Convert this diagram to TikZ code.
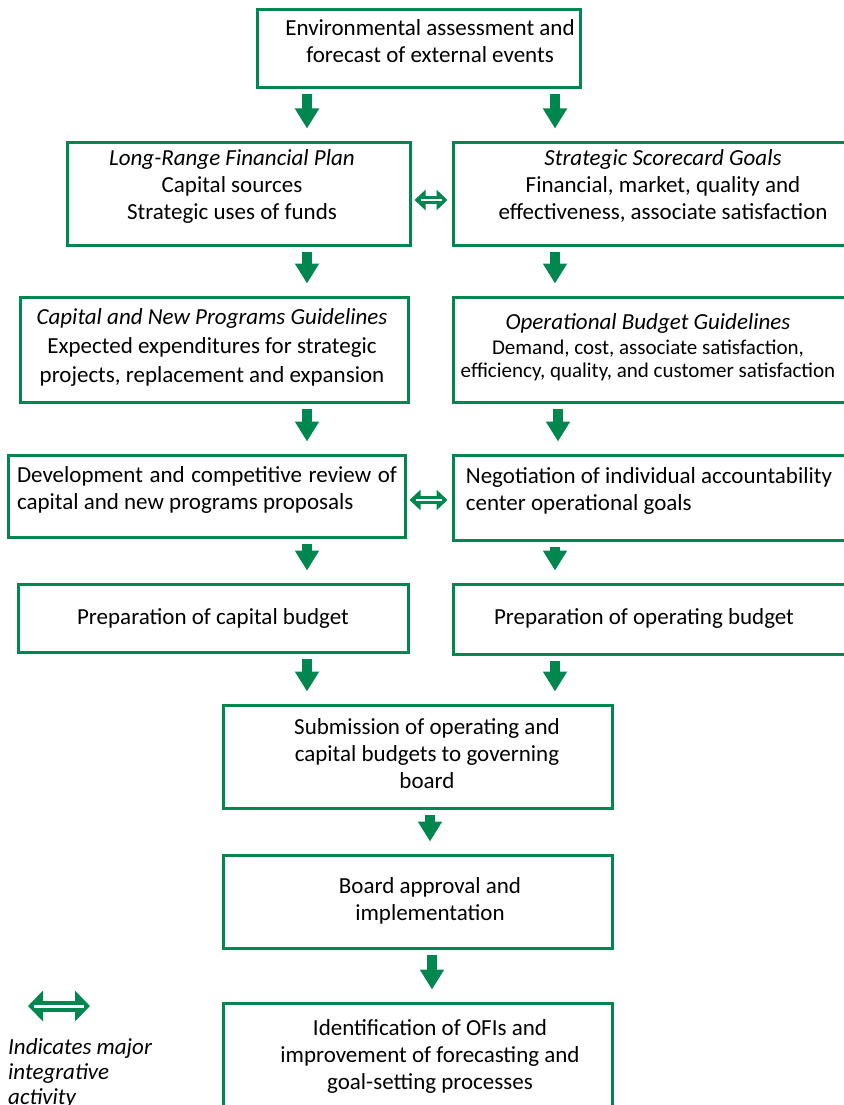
\documentclass[tikz,border=0pt]{standalone}
\usepackage{fontspec}
\setmainfont{Carlito}
\usetikzlibrary{positioning,arrows.meta,calc}
\definecolor{boxgreen}{HTML}{00874F}

\tikzset{
  box/.style={draw=boxgreen, line width=3pt, inner sep=0pt},
  txt/.style={align=center, inner sep=0pt, font=\fontsize{23}{27}\selectfont},
  flow/.style={draw=boxgreen, line width=9.5pt, -{Triangle[width=23pt,length=20pt]},
    shorten <=5pt, shorten >=12pt},
  integ/.style={draw=boxgreen, line width=8pt,
    {Triangle[width=20pt,length=11pt]}-{Triangle[width=20pt,length=11pt]},
    shorten <=3pt, shorten >=4pt,
    postaction={draw=white, line width=1.8pt, -, shorten <=9pt, shorten >=10pt}},
  legarrow/.style={draw=boxgreen, line width=11pt,
    {Triangle[width=30pt,length=15pt]}-{Triangle[width=30pt,length=15pt]},
    postaction={draw=white, line width=3pt, -, shorten <=6pt, shorten >=6pt}}
}

\begin{document}
\begin{tikzpicture}[x=1pt,y=-1pt]
    \useasboundingbox (0,0) rectangle (843,1105);

    % columns of the arrows
    \coordinate (colL) at (307,0);
    \coordinate (colR) at (555,0);
    \coordinate (colM) at (430,0);

    % boxes
    \node[box, minimum width=323pt, minimum height=78pt] (env) at (418.5,49) {};
    \node[box, minimum width=343pt, minimum height=103pt] (lrfp) at (238.5,193.5) {};
    \node[box, minimum width=410pt, minimum height=103pt] (ssg) at (658,193.5) {};
    \node[box, minimum width=388pt, minimum height=105pt] (cnpg) at (214,349.5) {};
    \node[box, minimum width=410pt, minimum height=105pt] (obg) at (658,349.5) {};
    \node[box, minimum width=397pt, minimum height=82pt] (dev) at (206.5,496) {};
    \node[box, minimum width=410pt, minimum height=85pt] (neg) at (658,497.5) {};
    \node[box, minimum width=390pt, minimum height=68pt] (pcb) at (213,618) {};
    \node[box, minimum width=410pt, minimum height=70pt] (pob) at (658,619) {};
    \node[box, minimum width=389pt, minimum height=103pt] (sub) at (417.5,756.5) {};
    \node[box, minimum width=389pt, minimum height=93pt] (board) at (417.5,901.5) {};
    \node[box, minimum width=389pt, minimum height=117pt] (ofi) at (417.5,1061.5) {};

    % texts
    \node[txt] (env-t) at (430,41) {Environmental assessment and\\forecast of external events};
    \node[txt] (lrfp-t) at (232,186) {\textit{Long-Range Financial Plan}\\Capital sources\\Strategic uses of funds};
    \node[txt] (ssg-t) at (663,186) {\textit{Strategic Scorecard Goals}\\Financial, market, quality and\\effectiveness, associate satisfaction};
    \node[txt, font=\fontsize{23}{29}\selectfont] (cnpg-t) at (212,347) {\textit{Capital and New Programs Guidelines}\\Expected expenditures for strategic\\projects, replacement and expansion};
    \node[txt] (obg-t) at (648,347) {\textit{Operational Budget Guidelines}\\[-2pt]
      {\fontsize{21}{23}\selectfont Demand, cost, associate satisfaction,}\\[-4pt]
      {\fontsize{21}{23}\selectfont efficiency, quality, and customer satisfaction}};
    \node[txt, align=justify, text width=380pt] (dev-t) at (207,490) {Development and competitive review of capital and new programs proposals};
    \node[txt, align=left] (neg-t) at (649,491) {Negotiation of individual accountability\\center operational goals};
    \node[txt] (pcb-t) at (213,618) {Preparation of capital budget};
    \node[txt] (pob-t) at (644,618) {Preparation of operating budget};
    \node[txt] (sub-t) at (427,754) {Submission of operating and\\capital budgets to governing\\board};
    \node[txt] (board-t) at (430,901) {Board approval and\\implementation};
    \node[txt] (ofi-t) at (430,1056) {Identification of OFIs and\\improvement of forecasting and\\goal-setting processes};

    % flow arrows
    \draw[flow] (env.south -| colL) -- (lrfp.north -| colL);
    \draw[flow] (env.south -| colR) -- (ssg.north -| colR);
    \draw[flow] (lrfp.south -| colL) -- (cnpg.north -| colL);
    \draw[flow] (ssg.south -| colR) -- (obg.north -| colR);
    \draw[flow] (cnpg.south -| colL) -- (dev.north -| colL);
    \draw[flow] ([xshift=3pt]obg.south -| colR) -- ([xshift=3pt]neg.north -| colR);
    \draw[flow] (dev.south -| colL) -- (pcb.north -| colL);
    \draw[flow] (neg.south -| colR) -- (pob.north -| colR);
    \draw[flow] (pcb.south -| colL) -- (sub.north -| colL);
    \draw[flow] (pob.south -| colR) -- (sub.north -| colR);
    \draw[flow] (sub.south -| colM) -- (board.north -| colM);
    \draw[flow] ([xshift=2pt]board.south -| colM) -- ([xshift=2pt]ofi.north -| colM);

    % integrative activities
    \draw[integ] ([yshift=-6.5pt]lrfp.east) -- ([yshift=-6.5pt]ssg.west |- lrfp.east);
    \draw[integ] ([yshift=-4pt]dev.east) -- ([yshift=-4pt]neg.west |- dev.east);

    % legend
    \coordinate (legA) at (28,1006);
    \coordinate (legB) at (90,1006);
    \draw[legarrow] (legA) -- (legB);
    \node[txt, align=left, anchor=north west, font=\itshape\fontsize{23}{25}\selectfont] (leg-t) at (8,1038) {Indicates major\\integrative\\activity};
\end{tikzpicture}
\end{document}
